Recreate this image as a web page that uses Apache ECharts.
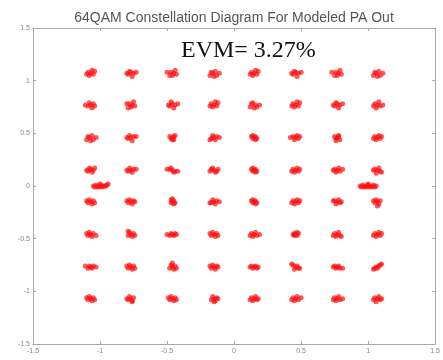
<!DOCTYPE html>
<html>
<head>
<meta charset="utf-8">
<script src="https://cdn.jsdelivr.net/npm/echarts@6/dist/echarts.min.js"></script>
<style>html,body{margin:0;padding:0;background:#fff}#c{width:443px;height:360px}</style>
</head>
<body>
<div id="c"></div>
<script>
var titleText = "64QAM Constellation Diagram For Modeled PA Out";
var evmText = "EVM= 3.27%";
var tickValues = [-1.5, -1, -0.5, 0, 0.5, 1, 1.5];

var rowQ1p07 = [
 [-1.07,1.07],[-1.09,1.08],[-1.05,1.06],[-1.08,1.05],[-1.04,1.09],[-1.10,1.06],[-1.06,1.10],
 [-0.77,1.08],[-0.75,1.07],[-0.79,1.06],[-0.76,1.04],[-0.78,1.09],[-0.73,1.08],[-0.80,1.07],
 [-0.45,1.07],[-0.47,1.08],[-0.46,1.05],[-0.43,1.06],[-0.48,1.05],[-0.44,1.10],[-0.50,1.08],
 [-0.16,1.07],[-0.14,1.09],[-0.13,1.05],[-0.17,1.08],[-0.15,1.04],[-0.11,1.07],[-0.18,1.05],
 [0.15,1.07],[0.13,1.08],[0.17,1.06],[0.14,1.05],[0.18,1.09],[0.12,1.06],[0.16,1.10],
 [0.46,1.08],[0.48,1.07],[0.44,1.06],[0.47,1.04],[0.45,1.09],[0.50,1.08],[0.43,1.07],
 [0.78,1.07],[0.76,1.08],[0.77,1.05],[0.80,1.06],[0.75,1.05],[0.79,1.10],[0.73,1.08],
 [1.06,1.07],[1.08,1.09],[1.09,1.05],[1.05,1.08],[1.07,1.04],[1.11,1.07],[1.04,1.05]
];
var rowQ0p77 = [
 [-1.07,0.77],[-1.05,0.78],[-1.09,0.76],[-1.06,0.74],[-1.08,0.79],[-1.11,0.77],[-1.04,0.76],
 [-0.76,0.77],[-0.78,0.78],[-0.77,0.75],[-0.74,0.76],[-0.79,0.74],[-0.75,0.80],[-0.80,0.78],
 [-0.46,0.78],[-0.44,0.77],[-0.48,0.76],[-0.45,0.74],[-0.47,0.80],[-0.42,0.78],[-0.49,0.77],
 [-0.15,0.77],[-0.17,0.78],[-0.13,0.76],[-0.16,0.75],[-0.12,0.79],[-0.18,0.76],[-0.14,0.80],
 [0.16,0.77],[0.14,0.79],[0.17,0.75],[0.13,0.78],[0.15,0.74],[0.19,0.77],[0.12,0.75],
 [0.46,0.77],[0.44,0.78],[0.48,0.76],[0.45,0.75],[0.49,0.79],[0.43,0.76],[0.47,0.80],
 [0.77,0.78],[0.79,0.77],[0.75,0.76],[0.78,0.74],[0.76,0.79],[0.81,0.78],[0.74,0.77],
 [1.07,0.77],[1.05,0.78],[1.09,0.76],[1.06,0.74],[1.08,0.80],[1.11,0.77],[1.04,0.76]
];
var rowQ0p46 = [
 [-1.08,0.46],[-1.06,0.48],[-1.05,0.44],[-1.09,0.47],[-1.07,0.43],[-1.03,0.46],[-1.10,0.44],
 [-0.77,0.46],[-0.75,0.47],[-0.79,0.45],[-0.76,0.43],[-0.78,0.48],[-0.73,0.47],[-0.80,0.46],
 [-0.46,0.46],[-0.45,0.47],[-0.47,0.45],[-0.45,0.44],[-0.48,0.47],[-0.44,0.48],[-0.46,0.44],
 [-0.15,0.46],[-0.13,0.47],[-0.17,0.45],[-0.14,0.44],[-0.16,0.48],[-0.11,0.46],[-0.18,0.44],
 [0.15,0.46],[0.16,0.47],[0.14,0.45],[0.17,0.45],[0.13,0.47],[0.16,0.44],[0.14,0.48],
 [0.46,0.46],[0.44,0.47],[0.48,0.45],[0.45,0.44],[0.47,0.48],[0.42,0.46],[0.49,0.47],
 [0.77,0.46],[0.78,0.47],[0.76,0.45],[0.79,0.44],[0.75,0.47],[0.78,0.48],[0.76,0.43],
 [1.07,0.46],[1.05,0.47],[1.09,0.45],[1.06,0.44],[1.08,0.48],[1.04,0.45],[1.10,0.47]
];
var rowQ0p15 = [
 [-1.07,0.16],[-1.05,0.15],[-1.09,0.14],[-1.06,0.13],[-1.08,0.17],[-1.04,0.17],[-1.10,0.15],
 [-0.77,0.15],[-0.75,0.16],[-0.79,0.14],[-0.76,0.13],[-0.78,0.17],[-0.73,0.16],[-0.80,0.15],
 [-0.46,0.15],[-0.44,0.14],[-0.48,0.16],[-0.45,0.13],[-0.47,0.17],[-0.42,0.14],[-0.50,0.16],
 [-0.15,0.15],[-0.13,0.14],[-0.17,0.16],[-0.14,0.13],[-0.16,0.17],[-0.12,0.16],[-0.18,0.14],
 [0.15,0.15],[0.16,0.16],[0.14,0.14],[0.17,0.14],[0.13,0.16],[0.16,0.13],[0.14,0.17],
 [0.46,0.15],[0.44,0.16],[0.48,0.14],[0.45,0.13],[0.47,0.17],[0.43,0.14],[0.49,0.16],
 [0.77,0.15],[0.75,0.16],[0.79,0.14],[0.76,0.13],[0.78,0.17],[0.74,0.15],[0.81,0.16],
 [1.07,0.15],[1.05,0.16],[1.09,0.14],[1.06,0.12],[1.08,0.17],[1.04,0.15],[1.10,0.13]
];
var rowQm0p15 = [
 [-1.07,-0.15],[-1.05,-0.14],[-1.09,-0.16],[-1.06,-0.17],[-1.08,-0.13],[-1.04,-0.16],[-1.10,-0.14],
 [-0.77,-0.15],[-0.75,-0.14],[-0.79,-0.16],[-0.76,-0.17],[-0.78,-0.13],[-0.74,-0.15],[-0.80,-0.14],
 [-0.46,-0.15],[-0.45,-0.14],[-0.47,-0.16],[-0.45,-0.17],[-0.47,-0.13],[-0.46,-0.12],[-0.44,-0.16],
 [-0.15,-0.15],[-0.13,-0.14],[-0.17,-0.16],[-0.14,-0.17],[-0.16,-0.13],[-0.11,-0.15],[-0.18,-0.16],
 [0.15,-0.15],[0.16,-0.14],[0.14,-0.16],[0.17,-0.16],[0.13,-0.14],[0.16,-0.17],[0.14,-0.13],
 [0.46,-0.15],[0.44,-0.14],[0.48,-0.16],[0.45,-0.17],[0.47,-0.13],[0.43,-0.16],[0.49,-0.14],
 [0.77,-0.15],[0.75,-0.14],[0.79,-0.16],[0.76,-0.17],[0.78,-0.13],[0.74,-0.14],[0.80,-0.15],
 [1.07,-0.15],[1.06,-0.13],[1.08,-0.17],[1.05,-0.16],[1.09,-0.14],[1.07,-0.19],[1.04,-0.14]
];
var rowQm0p46 = [
 [-1.07,-0.46],[-1.05,-0.45],[-1.09,-0.47],[-1.06,-0.48],[-1.08,-0.44],[-1.03,-0.47],[-1.10,-0.45],
 [-0.77,-0.46],[-0.75,-0.45],[-0.79,-0.47],[-0.76,-0.48],[-0.78,-0.44],[-0.74,-0.47],[-0.79,-0.43],
 [-0.46,-0.46],[-0.44,-0.45],[-0.48,-0.47],[-0.45,-0.47],[-0.47,-0.45],[-0.43,-0.46],[-0.50,-0.46],
 [-0.15,-0.46],[-0.13,-0.45],[-0.17,-0.47],[-0.14,-0.48],[-0.16,-0.44],[-0.12,-0.47],[-0.18,-0.45],
 [0.15,-0.46],[0.13,-0.45],[0.17,-0.47],[0.14,-0.48],[0.16,-0.44],[0.19,-0.46],[0.12,-0.47],
 [0.46,-0.46],[0.45,-0.45],[0.47,-0.47],[0.45,-0.47],[0.48,-0.45],[0.44,-0.46],[0.47,-0.44],
 [0.77,-0.46],[0.75,-0.45],[0.79,-0.47],[0.76,-0.48],[0.78,-0.44],[0.80,-0.48],[0.74,-0.47],
 [1.07,-0.46],[1.05,-0.45],[1.09,-0.47],[1.06,-0.48],[1.08,-0.44],[1.04,-0.47],[1.10,-0.45]
];
var rowQm0p77 = [
 [-1.07,-0.77],[-1.05,-0.76],[-1.09,-0.78],[-1.06,-0.78],[-1.08,-0.76],[-1.03,-0.77],[-1.11,-0.76],
 [-0.77,-0.77],[-0.75,-0.76],[-0.79,-0.78],[-0.76,-0.79],[-0.78,-0.75],[-0.74,-0.78],[-0.80,-0.76],
 [-0.46,-0.77],[-0.44,-0.76],[-0.48,-0.78],[-0.45,-0.79],[-0.47,-0.75],[-0.46,-0.73],[-0.43,-0.78],
 [-0.15,-0.77],[-0.13,-0.76],[-0.17,-0.78],[-0.14,-0.79],[-0.16,-0.75],[-0.12,-0.77],[-0.18,-0.76],
 [0.15,-0.77],[0.13,-0.76],[0.17,-0.78],[0.14,-0.78],[0.16,-0.76],[0.12,-0.77],[0.18,-0.77],
 [0.46,-0.77],[0.44,-0.75],[0.48,-0.78],[0.45,-0.79],[0.47,-0.76],[0.43,-0.74],[0.49,-0.78],
 [0.77,-0.77],[0.75,-0.76],[0.79,-0.78],[0.76,-0.78],[0.78,-0.76],[0.74,-0.77],[0.81,-0.78],
 [1.06,-0.77],[1.08,-0.76],[1.05,-0.78],[1.09,-0.75],[1.04,-0.79],[1.10,-0.74],[1.07,-0.78]
];
var rowQm1p07 = [
 [-1.07,-1.07],[-1.05,-1.06],[-1.09,-1.08],[-1.06,-1.09],[-1.08,-1.05],[-1.04,-1.08],[-1.10,-1.06],
 [-0.77,-1.07],[-0.75,-1.06],[-0.79,-1.08],[-0.76,-1.09],[-0.78,-1.05],[-0.76,-1.10],[-0.80,-1.07],
 [-0.46,-1.07],[-0.44,-1.06],[-0.48,-1.08],[-0.45,-1.09],[-0.47,-1.05],[-0.43,-1.08],[-0.49,-1.06],
 [-0.15,-1.07],[-0.13,-1.06],[-0.17,-1.08],[-0.14,-1.09],[-0.16,-1.05],[-0.12,-1.07],[-0.15,-1.10],
 [0.15,-1.07],[0.13,-1.06],[0.17,-1.08],[0.14,-1.09],[0.16,-1.05],[0.18,-1.07],[0.12,-1.08],
 [0.46,-1.07],[0.44,-1.06],[0.48,-1.08],[0.45,-1.09],[0.47,-1.05],[0.43,-1.08],[0.50,-1.06],
 [0.77,-1.07],[0.75,-1.06],[0.79,-1.08],[0.76,-1.09],[0.78,-1.05],[0.74,-1.08],[0.81,-1.07],
 [1.07,-1.07],[1.05,-1.06],[1.09,-1.08],[1.06,-1.10],[1.08,-1.05],[1.04,-1.08],[1.10,-1.07]
];
var blobLeft = [
 [-1.05,0.00],[-1.03,0.01],[-1.01,0.00],[-0.99,0.01],[-0.97,0.00],[-0.95,0.01],[-1.04,-0.01],
 [-1.02,-0.01],[-1.00,-0.01],[-0.98,-0.01],[-0.96,0.00],[-1.00,0.02],[-0.94,0.02]
];
var blobRight = [
 [0.94,0.00],[0.96,0.01],[0.98,0.00],[1.00,0.01],[1.02,0.00],[1.04,0.01],[1.06,0.00],
 [0.95,-0.01],[0.97,-0.01],[0.99,-0.01],[1.01,-0.01],[1.03,-0.01],[1.05,-0.01],[1.00,0.02]
];

var allPoints = [].concat(rowQ1p07, rowQ0p77, rowQ0p46, rowQ0p15, rowQm0p15, rowQm0p46, rowQm0p77, rowQm1p07, blobLeft, blobRight);

var chart = echarts.init(document.getElementById('c'), null, {renderer: 'canvas'});
var axisCommon = {
  type: 'value', min: -1.5, max: 1.5, interval: 0.5,
  splitLine: {show: false},
  axisLine: {show: true, onZero: false, lineStyle: {color: '#a8a8a8', width: 1}},
  axisTick: {show: true, inside: true, length: 3, lineStyle: {color: '#a8a8a8'}}
};
function labelFmt(v) { return String(v); }
chart.setOption({
  animation: false,
  backgroundColor: '#ffffff',
  title: {
    text: titleText, left: 229, top: 6, textAlign: 'center',
    textStyle: {fontFamily: 'Liberation Sans, Arial', fontSize: 14, fontWeight: 'normal', color: '#555'}
  },
  graphic: [{
    type: 'text', left: 181, top: 39,
    style: {text: evmText, font: '24px "Liberation Serif", "Times New Roman", serif', fill: '#111'}
  }],
  grid: {left: 33, right: 4, top: 28, bottom: 16, containLabel: false},
  xAxis: [
    Object.assign({}, axisCommon, {position: 'bottom',
      axisLabel: {show: true, fontSize: 7, color: '#888', margin: 4, formatter: labelFmt}}),
    Object.assign({}, axisCommon, {position: 'top', axisLabel: {show: false}})
  ],
  yAxis: [
    Object.assign({}, axisCommon, {position: 'left',
      axisLabel: {show: true, fontSize: 7, color: '#888', margin: 3, formatter: labelFmt}}),
    Object.assign({}, axisCommon, {position: 'right', axisLabel: {show: false}})
  ],
  series: [{
    type: 'scatter', xAxisIndex: 0, yAxisIndex: 0,
    data: allPoints,
    symbol: 'circle', symbolSize: 5,
    itemStyle: {color: '#ff1010', opacity: 0.7},
    silent: true
  }]
});
</script>
</body>
</html>
